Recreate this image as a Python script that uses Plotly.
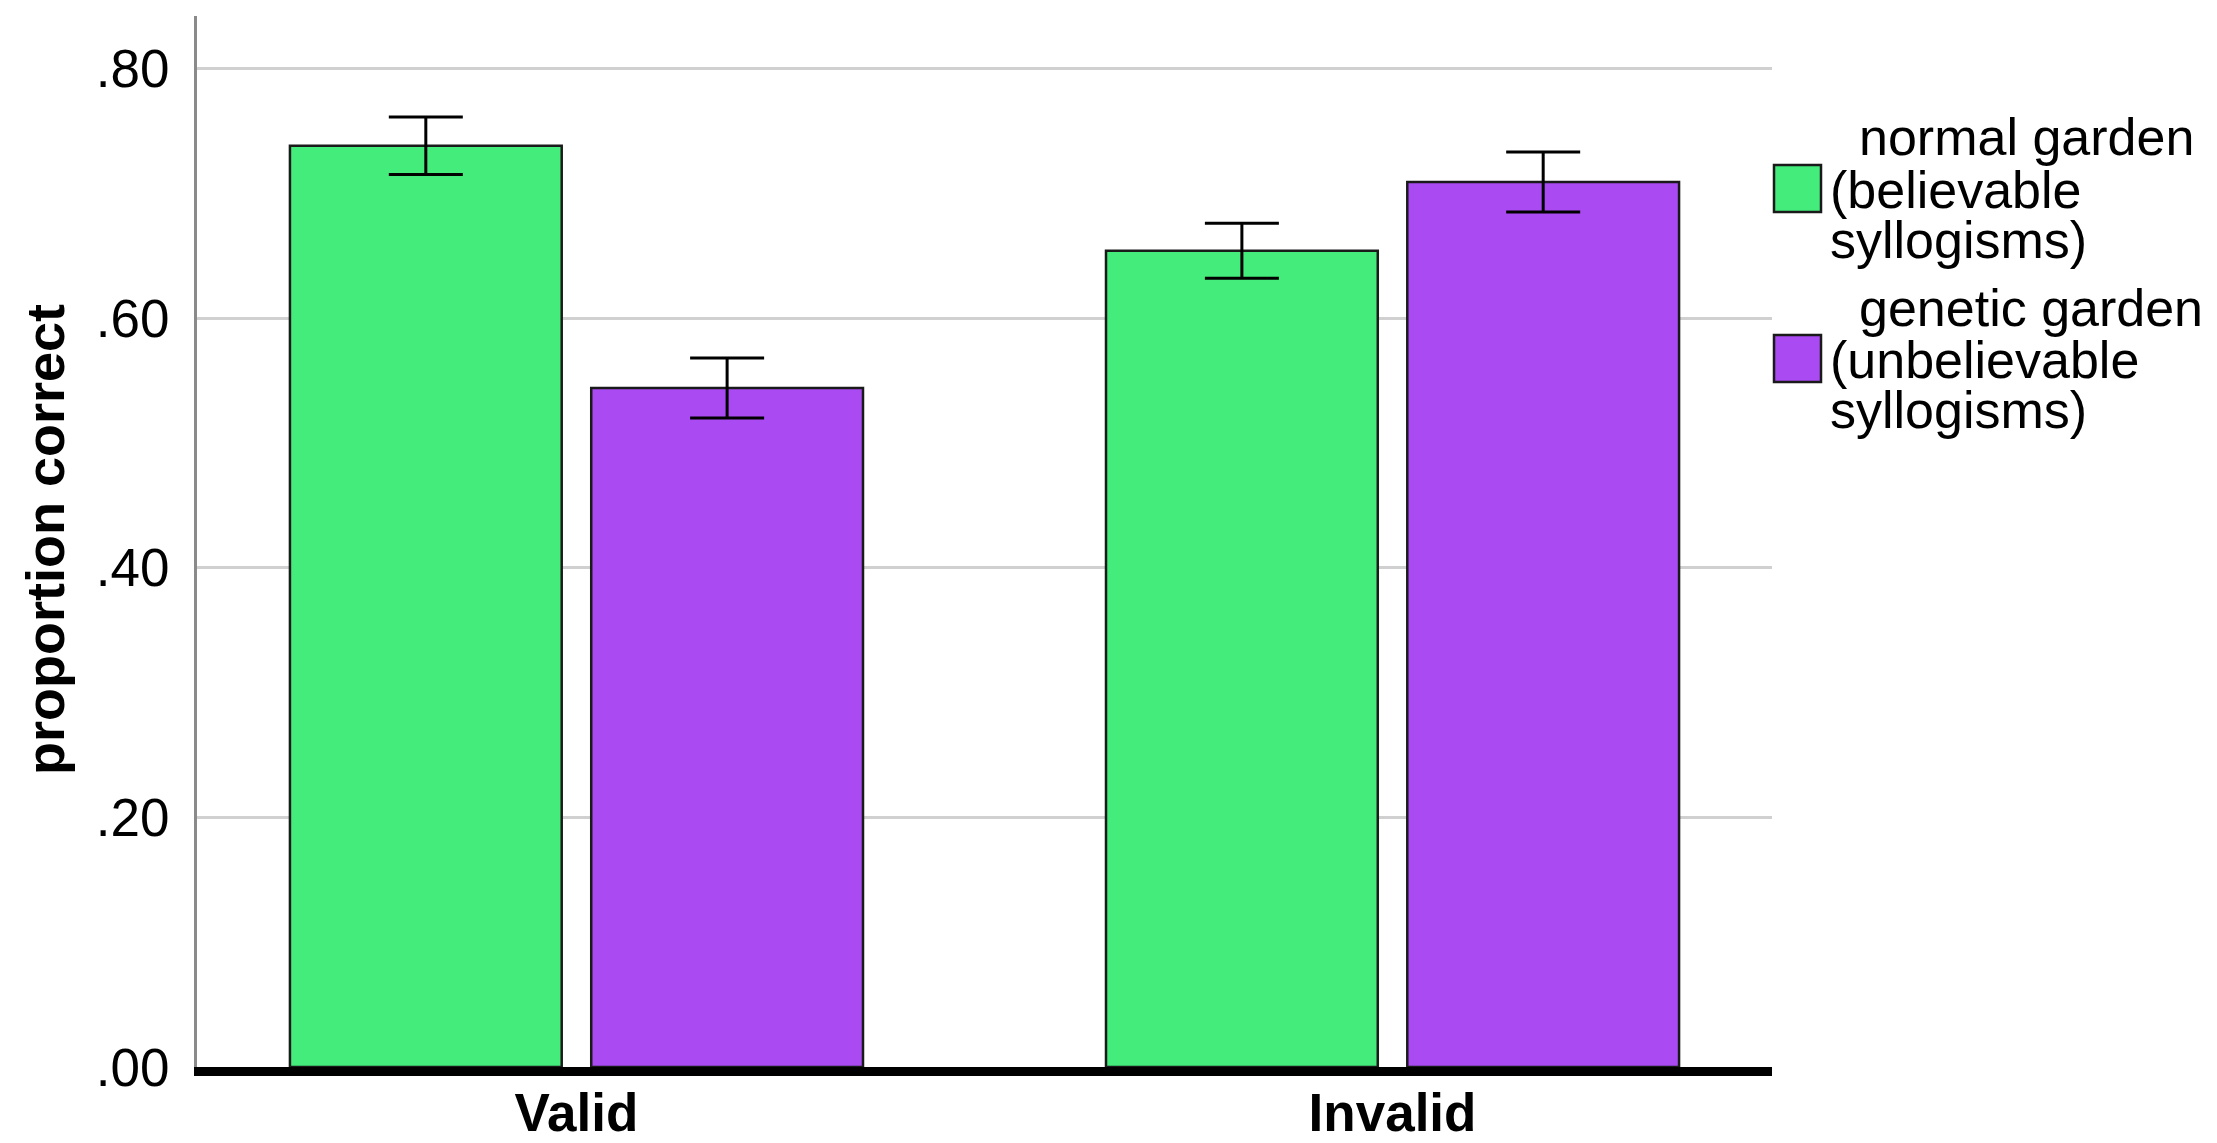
import plotly.graph_objects as go

conditions = ["Valid", "Invalid"]
normal_vals = [0.738, 0.654]
normal_err = [0.023, 0.022]
genetic_vals = [0.544, 0.709]
genetic_err = [0.024, 0.024]

legend_lines = [
    ["normal garden", "(believable", "syllogisms)"],
    ["genetic garden", "(unbelievable", "syllogisms)"],
]
y_ticks = [0.0, 0.2, 0.4, 0.6, 0.8]
y_ticktext = [".00", ".20", ".40", ".60", ".80"]

green = "#43EC7B"
purple = "#A94AF2"
font = "Liberation Sans, Arial, sans-serif"

W, H = 2217, 1143
L, R, T, B = 189, 1764, 8, 1059


def px_x(p):
    return (p - L) / (R - L)


def px_y(p):
    return (B - p) / (B - T)


fig = go.Figure()
for vals, errs, color in [
    (normal_vals, normal_err, green),
    (genetic_vals, genetic_err, purple),
]:
    fig.add_trace(
        go.Bar(
            x=conditions,
            y=vals,
            marker=dict(color=color, line=dict(color="#1a1a1a", width=2.5)),
            error_y=dict(
                type="data", array=errs, color="black", thickness=3, width=37
            ),
            showlegend=False,
        )
    )

# custom legend: boxes + wrapped labels
legend_colors = [green, purple]
box_tops = [157, 327]
line_ys = [[129, 182, 232], [300, 352, 402]]
for i, color in enumerate(legend_colors):
    fig.add_shape(
        type="rect",
        xref="paper",
        yref="paper",
        x0=px_x(1766),
        x1=px_x(1813),
        y0=px_y(box_tops[i] + 47),
        y1=px_y(box_tops[i]),
        fillcolor=color,
        line=dict(color="#1a1a1a", width=2.5),
    )
    for j, txt in enumerate(legend_lines[i]):
        fig.add_annotation(
            xref="paper",
            yref="paper",
            x=px_x(1849 if j == 0 else 1820),
            y=px_y(line_ys[i][j]),
            text=txt,
            showarrow=False,
            xanchor="left",
            yanchor="middle",
            font=dict(family=font, size=52, color="black"),
        )

fig.add_annotation(
    xref="paper",
    yref="paper",
    x=px_x(37),
    y=px_y(532),
    xanchor="center",
    yanchor="middle",
    text="<b>proportion correct</b>",
    textangle=-90,
    showarrow=False,
    font=dict(family=font, size=54, color="black"),
)

fig.update_layout(
    width=W,
    height=H,
    margin=dict(l=L, r=W - R, t=T, b=H - B, autoexpand=False),
    paper_bgcolor="white",
    plot_bgcolor="white",
    barmode="group",
    bargap=0.2616,
    bargroupgap=0.098,
    font=dict(family=font, color="black"),
)
fig.update_xaxes(
    type="category",
    range=[-0.465, 1.465],
    showline=True,
    linecolor="black",
    linewidth=9,
    showgrid=False,
    ticks="",
    tickfont=dict(family=font, size=53, color="black", weight="bold"),
    ticklabelstandoff=-9,
)
fig.update_yaxes(
    range=[0, 0.842],
    tickvals=y_ticks,
    ticktext=y_ticktext,
    showline=True,
    linecolor="#8a8a8a",
    linewidth=3,
    showgrid=True,
    gridcolor="#d0d0d0",
    gridwidth=3,
    zeroline=False,
    ticks="",
    ticklabelstandoff=14,
    tickfont=dict(family=font, size=53, color="black"),
)

fig.write_html("out.html")
